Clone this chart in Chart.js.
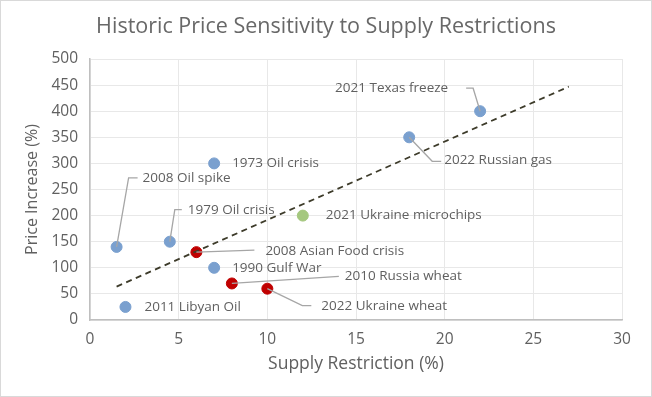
<!DOCTYPE html>
<html>
<head>
<meta charset="utf-8">
<script src="https://cdn.jsdelivr.net/npm/chart.js@4.4.1/dist/chart.umd.min.js"></script>
<style>
  html, body { margin: 0; padding: 0; background: #fff; }
  #wrap { width: 652px; height: 397px; }
</style>
</head>
<body>
<div id="wrap"><canvas id="chart" width="652" height="397"></canvas></div>
<script>
// Events
const eventNames = ['2011 Libyan Oil', '2008 Oil spike', '1979 Oil crisis', '2008 Asian Food crisis',
    '1990 Gulf War', '2010 Russia wheat', '2022 Ukraine wheat', '1973 Oil crisis',
    '2021 Ukraine microchips', '2022 Russian gas', '2021 Texas freeze'];
const supplyRestriction = [2, 1.5, 4.5, 6, 7, 8, 10, 7, 12, 18, 22];
const priceIncrease = [25, 140, 150, 130, 100, 70, 60, 300, 200, 350, 400];
const eventGroup = ['energy', 'energy', 'energy', 'food', 'energy', 'food', 'food', 'energy',
    'tech', 'energy', 'energy'];

// Dashed trend line end points
const trendX = [1.5, 27];
const trendY = [64, 447];

const xTicks = [0, 5, 10, 15, 20, 25, 30];
const yTicks = [0, 50, 100, 150, 200, 250, 300, 350, 400, 450, 500];

const groupColors = { energy: '#7aa0cf', food: '#c00000', tech: '#a5c87f' };

// Label placement (pixel offsets from the point): label anchor, text align, leader elbows
const labelStyle = {
    '2011 Libyan Oil':         { dx: 19, dy: 0, align: 'left', leader: [] },
    '2008 Oil spike':          { dx: 26, dy: -69, align: 'left', leader: [[12, -69], [21, -69]] },
    '1979 Oil crisis':         { dx: 18, dy: -32, align: 'left', leader: [[5, -32], [12, -32]] },
    '2008 Asian Food crisis':  { dx: 69, dy: -1, align: 'left', leader: [[58, -2]] },
    '1990 Gulf War':           { dx: 18, dy: 0, align: 'left', leader: [] },
    '2010 Russia wheat':       { dx: 113, dy: -7, align: 'left', leader: [[107, -7]] },
    '2022 Ukraine wheat':      { dx: 54, dy: 17, align: 'left', leader: [[35, 17], [44, 17]] },
    '1973 Oil crisis':         { dx: 18, dy: 0, align: 'left', leader: [] },
    '2021 Ukraine microchips': { dx: 23, dy: 0, align: 'left', leader: [] },
    '2022 Russian gas':        { dx: 35, dy: 23, align: 'left', leader: [[23, 24], [32, 24]] },
    '2021 Texas freeze':       { dx: -32, dy: -23, align: 'right', leader: [[-7, -23], [-14, -23]] }
};

const fontFamily = '"Open Sans", Lato, sans-serif';
const textColor = '#606060';

function groupData(group) {
    const pts = [];
    eventNames.forEach((name, i) => {
        if (eventGroup[i] === group) {
            pts.push({ x: supplyRestriction[i], y: priceIncrease[i], name: name });
        }
    });
    return pts;
}

const pointDataset = (group) => ({
    type: 'scatter',
    label: group,
    data: groupData(group),
    backgroundColor: groupColors[group],
    borderColor: groupColors[group],
    borderWidth: 1,
    pointRadius: 5.5,
    order: 1
});

// Title, border and event labels
const decorPlugin = {
    id: 'decor',
    beforeDraw(chart) {
        const ctx = chart.ctx;
        ctx.save();
        ctx.fillStyle = '#fff';
        ctx.fillRect(0, 0, chart.width, chart.height);
        ctx.strokeStyle = '#d9d9d9';
        ctx.lineWidth = 1;
        ctx.strokeRect(0.5, 0.5, chart.width - 1, chart.height - 1);
        ctx.fillStyle = '#686868';
        ctx.font = '21.5px ' + fontFamily;
        ctx.textAlign = 'center';
        ctx.textBaseline = 'middle';
        ctx.fillText('Historic Price Sensitivity to Supply Restrictions', chart.width / 2, 27);
        ctx.restore();
    },
    afterDatasetsDraw(chart) {
        const ctx = chart.ctx;
        const xs = chart.scales.x, ys = chart.scales.y;
        ctx.save();
        ctx.font = '13.5px ' + fontFamily;
        ctx.textBaseline = 'middle';
        eventNames.forEach((name, i) => {
            const st = labelStyle[name];
            const px = xs.getPixelForValue(supplyRestriction[i]);
            const py = ys.getPixelForValue(priceIncrease[i]);
            if (st.leader.length) {
                ctx.strokeStyle = '#a6a6a6';
                ctx.lineWidth = 1.3;
                ctx.beginPath();
                ctx.moveTo(px, py);
                st.leader.forEach(p => ctx.lineTo(px + p[0], py + p[1]));
                ctx.stroke();
            }
            ctx.fillStyle = textColor;
            ctx.textAlign = st.align;
            ctx.fillText(name, px + st.dx, py + st.dy);
        });
        ctx.restore();
    }
};

new Chart(document.getElementById('chart'), {
    type: 'scatter',
    data: {
        datasets: [
            {
                type: 'line',
                label: 'trend',
                data: trendX.map((x, i) => ({ x: x, y: trendY[i] })),
                borderColor: '#3d3b2a',
                borderWidth: 1.8,
                borderDash: [6, 4.5],
                pointRadius: 0,
                fill: false,
                order: 0
            },
            pointDataset('energy'),
            pointDataset('food'),
            pointDataset('tech')
        ]
    },
    options: {
        responsive: false,
        animation: false,
        layout: { padding: { left: 0, right: 30, top: 59, bottom: 0 } },
        plugins: {
            legend: { display: false },
            title: { display: false },
            tooltip: { enabled: false }
        },
        scales: {
            x: {
                type: 'linear',
                min: 0,
                max: 30,
                afterBuildTicks: (scale) => { scale.ticks = xTicks.map(v => ({ value: v })); },
                afterFit: (scale) => { scale.height = 77; },
                ticks: { color: textColor, font: { family: fontFamily, size: 15.5 }, padding: 10 },
                grid: { color: '#e8e8e8', drawTicks: false },
                border: { color: '#bfbfbf', width: 1.5 },
                title: {
                    display: true,
                    text: 'Supply Restriction (%)',
                    color: textColor,
                    font: { family: fontFamily, size: 17.5 },
                    padding: { top: 0, bottom: 22 }
                }
            },
            y: {
                type: 'linear',
                min: 0,
                max: 500,
                afterBuildTicks: (scale) => { scale.ticks = yTicks.map(v => ({ value: v })); },
                afterFit: (scale) => { scale.width = 90; },
                ticks: { color: textColor, font: { family: fontFamily, size: 15.5 }, padding: 12 },
                grid: { color: '#e8e8e8', drawTicks: false },
                border: { color: '#bfbfbf', width: 1.5 },
                title: {
                    display: true,
                    text: 'Price Increase (%)',
                    color: textColor,
                    font: { family: fontFamily, size: 16 },
                    padding: { top: 23, bottom: 0 }
                }
            }
        }
    },
    plugins: [decorPlugin]
});
</script>
</body>
</html>
